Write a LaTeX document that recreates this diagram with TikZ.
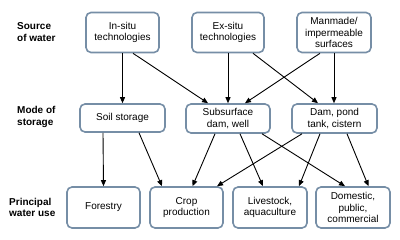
\documentclass[tikz,border=0pt]{standalone}
\usepackage{fontspec}
\setmainfont{Liberation Sans}
\usetikzlibrary{arrows.meta}
\definecolor{boxline}{RGB}{118,142,166}
\begin{document}
\begin{tikzpicture}[x=1pt,y=-1pt,
  box/.style={draw=boxline,line width=1.6pt,rounded corners=5pt,fill=white,
    align=center,inner sep=0pt,font=\fontsize{10}{11.5}\selectfont},
  lab/.style={align=left,anchor=west,inner sep=0pt,font=\fontsize{10}{11.5}\selectfont\bfseries},
  arr/.style={-{Triangle[length=6pt,width=5pt]},line width=0.9pt,black}]
\useasboundingbox (0,0) rectangle (400,240);
% labels
\node[lab] (l1) at (17,32) {Source\\of water};
\node[lab] (l2) at (17,117) {Mode of\\storage};
\node[lab] (l3) at (9,207.5) {Principal\\water use};
% top row
\node[box,minimum width=73pt,minimum height=40pt] (insitu) at (122.5,32.5) {In-situ\\technologies};
\node[box,minimum width=72pt,minimum height=40pt] (exsitu) at (228,32.5) {Ex-situ\\technologies};
\node[box,minimum width=74pt,minimum height=40pt] (man) at (334,32.5) {Manmade/\\impermeable\\surfaces};
% middle row
\node[box,minimum width=85pt,minimum height=28pt] (soil) at (122.5,118) {Soil storage};
\node[box,minimum width=84pt,minimum height=29pt] (sub) at (228,118.5) {Subsurface\\dam, well};
\node[box,minimum width=85pt,minimum height=29pt] (dam) at (334.5,118.5) {Dam, pond\\tank, cistern};
% bottom row
\node[box,minimum width=73pt,minimum height=41pt] (forest) at (103.5,207.5) {Forestry};
\node[box,minimum width=73pt,minimum height=41pt] (crop) at (186.5,207.5) {Crop\\production};
\node[box,minimum width=74pt,minimum height=41pt] (live) at (270,207.5) {Livestock,\\aquaculture};
\node[box,minimum width=74pt,minimum height=41pt] (dom) at (353,207.5) {Domestic,\\public,\\commercial};
% top to middle
\draw[arr] (insitu.south) -- (soil.north);
\draw[arr] ([xshift=10.5pt]insitu.south) -- ([xshift=-20pt]sub.north);
\draw[arr] (exsitu.south) -- (sub.north);
\draw[arr] ([xshift=25pt]exsitu.south) -- ([xshift=-16.5pt]dam.north);
\draw[arr] ([xshift=-14pt]man.south) -- ([xshift=17pt]sub.north);
\draw[arr] (man.south) -- ([xshift=-0.5pt]dam.north);
% middle to bottom
\draw[arr] ([xshift=-19.5pt]soil.south) -- (forest.north);
\draw[arr] ([xshift=16.5pt]soil.south) -- ([xshift=-24.5pt]crop.north);
\draw[arr] ([xshift=-13pt]sub.south) -- ([xshift=6pt]crop.north);
\draw[arr] ([xshift=12pt]sub.south) -- ([xshift=-7pt]live.north);
\draw[arr] ([xshift=34pt]sub.south) -- ([xshift=-8pt]dom.north);
\draw[arr] ([xshift=-32.5pt]dam.south) -- ([xshift=30.5pt]crop.north);
\draw[arr] ([xshift=-14.5pt]dam.south) -- ([xshift=29pt]live.north);
\draw[arr] ([xshift=12.5pt]dam.south) -- ([xshift=15.5pt]dom.north);
\end{tikzpicture}
\end{document}
